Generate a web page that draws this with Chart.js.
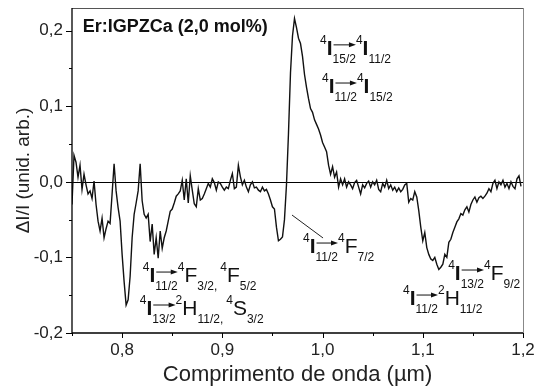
<!DOCTYPE html>
<html>
<head>
<meta charset="utf-8">
<script src="https://cdn.jsdelivr.net/npm/chart.js@4.4.0/dist/chart.umd.min.js"></script>
<style>
  body { margin: 0; background: #fff; }
  #wrap { width: 537px; height: 388px; }
</style>
</head>
<body>
<div id="wrap"><canvas id="chart" width="537" height="388"></canvas></div>
<script>
const FONT = '"Liberation Sans", Arial, sans-serif';

// signal sampled every 0.002 um, starting at 0.750 um
const waveStart = 0.75;
const waveStep = 0.002;
const deltaI = [
  -0.030, 0.035, 0.026, 0.006, 0.022, -0.010, 0.010, -0.004, -0.016, -0.012,   // 0.750
  -0.022, 0.001, -0.030, -0.052, -0.065, -0.048, -0.074, -0.062, -0.052, -0.055, // 0.770
  -0.016, 0.024, -0.012, -0.034, -0.052, -0.096, -0.132, -0.163, -0.156, -0.125, // 0.790
  -0.074, -0.043, -0.028, -0.012, 0.024, -0.025, -0.043, -0.048, -0.043, -0.079, // 0.810
  -0.056, -0.096, -0.074, -0.101, -0.065, -0.088, -0.074, -0.065, -0.052, -0.039, // 0.830
  -0.036, -0.028, -0.019, -0.016, -0.012, 0.002, -0.024, 0.004, -0.028, 0.008,  // 0.850
  -0.011, -0.029, -0.033, -0.009, -0.024, -0.022, -0.016, -0.009, -0.002, -0.007, // 0.870
  0.004, -0.001, -0.011, 0.000, -0.002, -0.007, -0.011, -0.007, -0.009, 0.002,  // 0.890
  0.011, -0.009, -0.007, 0.022, 0.007, -0.004, 0.002, -0.007, -0.013, -0.004,   // 0.910
  0.000, -0.008, -0.007, -0.011, -0.013, -0.007, -0.012, -0.010, -0.016, -0.024, // 0.930
  -0.033, -0.036, -0.060, -0.078, -0.076, -0.073, -0.050, -0.004, 0.064, 0.144, // 0.950
  0.193, 0.216, 0.204, 0.190, 0.183, 0.166, 0.142, 0.125, 0.110, 0.097,         // 0.970
  0.092, 0.082, 0.076, 0.070, 0.062, 0.052, 0.046, 0.040, 0.022, 0.010,         // 0.990
  0.020, 0.006, 0.013, -0.007, 0.004, -0.004, 0.004, -0.007, 0.000, -0.004,     // 1.010
  -0.009, -0.001, 0.002, -0.007, -0.016, -0.004, -0.008, -0.002, 0.001, -0.007, // 1.030
  0.000, -0.004, 0.002, -0.010, -0.013, -0.002, -0.007, 0.002, -0.009, -0.004,  // 1.050
  -0.011, -0.007, -0.013, -0.008, -0.013, -0.010, -0.004, -0.002, -0.027, -0.022, // 1.070
  -0.024, -0.013, -0.020, -0.038, -0.060, -0.078, -0.067, -0.087, -0.096, -0.102, // 1.090
  -0.104, -0.100, -0.109, -0.116, -0.113, -0.109, -0.096, -0.100, -0.080, -0.076, // 1.110
  -0.067, -0.060, -0.053, -0.049, -0.042, -0.044, -0.037, -0.033, -0.040, -0.030, // 1.130
  -0.024, -0.020, -0.027, -0.021, -0.019, -0.022, -0.019, -0.015, -0.009, -0.013, // 1.150
  -0.002, 0.002, -0.009, 0.000, -0.004, 0.002, -0.007, -0.002, -0.009, 0.000,   // 1.170
  -0.006, -0.009, 0.004, 0.008, -0.006                                          // 1.190
];

const xMajor = [0.8, 0.9, 1.0, 1.1, 1.2];
const xMinor = [0.75, 0.85, 0.95, 1.05, 1.15];
const yMajor = [-0.2, -0.1, 0.0, 0.1, 0.2];
const yMinor = [-0.15, -0.05, 0.05, 0.15];

const sampleName = 'Er:IGPZCa (2,0 mol%)';
const xTitle = 'Comprimento de onda (\u00b5m)';
const yTitle = '\u0394I/I (unid. arb.)';

// transition labels, anchored at (wavelength, signal) of the left end of the baseline
// parts: sup, I (bold I), L (letter), sub, asub (subscript with arrow above), gap
const transitions = [
  {x: 0.9975, y: 0.168, parts: [['sup','4'],['I','I'],['asub','15/2'],['sup','4'],['I','I'],['sub','11/2']]},
  {x: 0.9994, y: 0.1175, parts: [['sup','4'],['I','I'],['asub','11/2'],['sup','4'],['I','I'],['sub','15/2']]},
  {x: 0.8206, y: -0.1326, parts: [['sup','4'],['I','I'],['asub','11/2'],['sup','4'],['L','F'],['sub','3/2'],['sub',','],['gap',3],['sup','4'],['L','F'],['sub','5/2']]},
  {x: 0.8176, y: -0.1762, parts: [['sup','4'],['I','I'],['asub','13/2'],['sup','2'],['L','H'],['sub','11/2'],['sub',','],['gap',3],['sup','4'],['L','S'],['sub','3/2']]},
  {x: 0.9805, y: -0.0942, parts: [['sup','4'],['I','I'],['asub','11/2'],['sup','4'],['L','F'],['sub','7/2']]},
  {x: 1.1253, y: -0.1299, parts: [['sup','4'],['I','I'],['asub','13/2'],['sup','4'],['L','F'],['sub','9/2']]},
  {x: 1.0803, y: -0.163, parts: [['sup','4'],['I','I'],['asub','11/2'],['sup','2'],['L','H'],['sub','11/2']]}
];
const pointer = [[0.9695, -0.0439], [1.0005, -0.0743]];

function comma(v) { return v.toFixed(1).replace('.', ','); }

function arrow(ctx, x1, x2, y) {
  ctx.lineWidth = 1;
  ctx.beginPath(); ctx.moveTo(x1, y); ctx.lineTo(x2 - 5, y); ctx.stroke();
  ctx.beginPath(); ctx.moveTo(x2, y); ctx.lineTo(x2 - 7, y - 2.5); ctx.lineTo(x2 - 7, y + 2.5);
  ctx.closePath(); ctx.fill();
}

function drawTransition(ctx, x0, base, parts) {
  let x = x0;
  ctx.textBaseline = 'alphabetic';
  ctx.textAlign = 'left';
  for (const [kind, t] of parts) {
    if (kind === 'gap') { x += t; continue; }
    let dy = 0;
    if (kind === 'sup') { ctx.font = '12px ' + FONT; dy = -11; }
    else if (kind === 'I') { ctx.font = 'bold 21px ' + FONT; }
    else if (kind === 'L') { ctx.font = '21px ' + FONT; }
    else { ctx.font = '12px ' + FONT; dy = 8; }
    const w = ctx.measureText(t).width;
    ctx.fillText(t, x, base + dy);
    if (kind === 'asub') arrow(ctx, x + 1, x + w, base - 10);
    x += w;
  }
}

const decor = {
  id: 'decor',
  beforeDatasetsDraw(chart) {
    const {ctx, chartArea: a, scales: {y}} = chart;
    ctx.save();
    ctx.strokeStyle = '#000';
    ctx.lineWidth = 1;
    const y0 = Math.round(y.getPixelForValue(0)) + 0.5;
    ctx.beginPath(); ctx.moveTo(a.left, y0); ctx.lineTo(a.right, y0); ctx.stroke();
    ctx.restore();
  },
  afterDatasetsDraw(chart) {
    const {ctx, chartArea: a, scales: {x, y}} = chart;
    ctx.save();
    // frame
    ctx.lineWidth = 1;
    ctx.strokeStyle = '#555';
    ctx.beginPath(); ctx.moveTo(a.left, a.top + 0.5); ctx.lineTo(a.right, a.top + 0.5); ctx.stroke();
    ctx.strokeStyle = '#888';
    ctx.beginPath(); ctx.moveTo(a.right + 0.5, a.top); ctx.lineTo(a.right + 0.5, a.bottom); ctx.stroke();
    ctx.strokeStyle = '#000';
    ctx.lineWidth = 1.3;
    ctx.beginPath();
    ctx.moveTo(a.left, a.top); ctx.lineTo(a.left, a.bottom); ctx.lineTo(a.right, a.bottom);
    ctx.stroke();
    // ticks
    ctx.lineWidth = 1;
    ctx.beginPath();
    xMajor.forEach(v => { const p = Math.round(x.getPixelForValue(v)) + 0.5; ctx.moveTo(p, a.bottom); ctx.lineTo(p, a.bottom + 5); });
    xMinor.forEach(v => { const p = Math.round(x.getPixelForValue(v)) + 0.5; ctx.moveTo(p, a.bottom); ctx.lineTo(p, a.bottom + 3); });
    yMajor.forEach(v => { const p = Math.round(y.getPixelForValue(v)) + 0.5; ctx.moveTo(a.left, p); ctx.lineTo(a.left - 6, p); });
    yMinor.forEach(v => { const p = Math.round(y.getPixelForValue(v)) + 0.5; ctx.moveTo(a.left, p); ctx.lineTo(a.left - 3, p); });
    ctx.stroke();
    // pointer to the 0.96 um band
    ctx.strokeStyle = '#222';
    ctx.beginPath();
    ctx.moveTo(x.getPixelForValue(pointer[0][0]), y.getPixelForValue(pointer[0][1]));
    ctx.lineTo(x.getPixelForValue(pointer[1][0]), y.getPixelForValue(pointer[1][1]));
    ctx.stroke();
    // texts
    ctx.fillStyle = '#111';
    ctx.strokeStyle = '#111';
    ctx.font = 'bold 18px ' + FONT;
    ctx.textBaseline = 'alphabetic';
    ctx.fillText(sampleName, x.getPixelForValue(0.7607), y.getPixelForValue(0.1982));
    transitions.forEach(t => drawTransition(ctx, x.getPixelForValue(t.x), y.getPixelForValue(t.y), t.parts));
    ctx.restore();
  }
};

const points = deltaI.map((v, i) => ({x: waveStart + i * waveStep, y: v}));

new Chart(document.getElementById('chart'), {
  type: 'line',
  data: {
    datasets: [{
      data: points,
      borderColor: '#111',
      borderWidth: 1.4,
      pointRadius: 0,
      tension: 0,
      fill: false
    }]
  },
  options: {
    responsive: false,
    animation: false,
    layout: { padding: { left: 0, right: 14, top: 8, bottom: 0 } },
    plugins: { legend: { display: false }, tooltip: { enabled: false } },
    scales: {
      x: {
        type: 'linear',
        min: 0.75,
        max: 1.2,
        afterBuildTicks: s => { s.ticks = xMajor.map(v => ({value: v})); },
        afterFit: s => { s.height = 55; s.paddingLeft = 0; s.paddingRight = 0; },
        grid: { display: false, drawTicks: false },
        border: { display: false },
        ticks: { callback: v => comma(v), font: { family: FONT, size: 17 }, color: '#222', padding: 7, maxRotation: 0, autoSkip: false },
        title: { display: true, text: xTitle, font: { family: FONT, size: 22 }, color: '#222', padding: { top: 0, bottom: 0 } }
      },
      y: {
        min: -0.2,
        max: 0.23,
        afterBuildTicks: s => { s.ticks = yMajor.map(v => ({value: v})); },
        afterFit: s => { s.width = 72; s.paddingTop = 0; s.paddingBottom = 0; },
        grid: { display: false, drawTicks: false },
        border: { display: false },
        ticks: { callback: v => comma(v), font: { family: FONT, size: 17 }, color: '#222', padding: 9 },
        title: { display: true, text: yTitle, font: { family: FONT, size: 19 }, color: '#222', padding: { top: 12.6, bottom: 0 } }
      }
    }
  },
  plugins: [decor]
});
</script>
</body>
</html>
